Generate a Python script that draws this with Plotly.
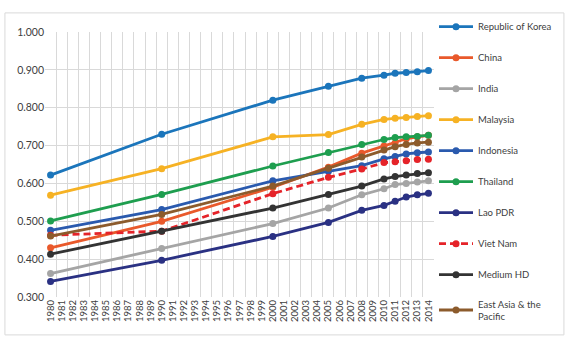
import plotly.graph_objects as go

years = [1980, 1990, 2000, 2005, 2008, 2010, 2011, 2012, 2013, 2014]
all_years = list(range(1980, 2015))

series_names = ["Republic of Korea", "China", "India", "Malaysia", "Indonesia",
                "Thailand", "Lao PDR", "Viet Nam", "Medium HD", "East Asia & the<br>Pacific"]

korea     = [0.622, 0.730, 0.820, 0.857, 0.878, 0.886, 0.891, 0.893, 0.895, 0.898]
china     = [0.430, 0.500, 0.590, 0.643, 0.680, 0.699, 0.707, 0.718, 0.723, 0.727]
india     = [0.362, 0.428, 0.494, 0.535, 0.570, 0.586, 0.597, 0.600, 0.604, 0.607]
malaysia  = [0.569, 0.639, 0.723, 0.729, 0.756, 0.769, 0.772, 0.774, 0.777, 0.779]
indonesia = [0.476, 0.531, 0.607, 0.632, 0.647, 0.665, 0.671, 0.678, 0.681, 0.683]
thailand  = [0.501, 0.571, 0.646, 0.682, 0.703, 0.716, 0.721, 0.723, 0.724, 0.727]
lao       = [0.341, 0.397, 0.460, 0.497, 0.529, 0.542, 0.553, 0.564, 0.570, 0.574]
vietnam   = [0.463, 0.474, 0.573, 0.616, 0.638, 0.655, 0.657, 0.660, 0.663, 0.664]
medium_hd = [0.413, 0.474, 0.535, 0.571, 0.593, 0.612, 0.618, 0.622, 0.626, 0.628]
eap       = [0.461, 0.518, 0.593, 0.640, 0.670, 0.688, 0.697, 0.703, 0.707, 0.709]

values = [korea, china, india, malaysia, indonesia, thailand, lao, vietnam, medium_hd, eap]
colors = ["#1B75BB", "#E9592B", "#A5A5A5", "#F6B224", "#2A5AAE",
          "#1E9E4F", "#2A3183", "#E52329", "#333333", "#8C5B2C"]
dashes = ["solid"] * 7 + ["7px,4px"] + ["solid"] * 2

y_ticks = [0.3, 0.4, 0.5, 0.6, 0.7, 0.8, 0.9, 1.0]

fig = go.Figure()
for i, (name, vals, col, dash) in enumerate(zip(series_names, values, colors, dashes)):
    fig.add_trace(go.Scatter(
        x=years, y=vals, name=name, mode="lines+markers",
        line=dict(color=col, width=2.8, dash=dash),
        marker=dict(color=col, size=7, symbol="circle"),
        legendgroup=f"g{i}",
    ))

grid = "#D9D9D9"
fig.update_layout(
    width=571, height=347,
    margin=dict(l=45, r=137, t=32, b=50),
    paper_bgcolor="white", plot_bgcolor="white",
    font=dict(family="Lato, Open Sans, sans-serif", size=10, color="#404040"),
    showlegend=True,
    legend=dict(
        x=1.0, xanchor="left", y=1.075, yanchor="top",
        traceorder="grouped", tracegroupgap=12,
        font=dict(size=9.5, color="#404040"),
        itemwidth=34, bgcolor="rgba(0,0,0,0)",
        maxheight=345,
    ),
    shapes=[dict(type="rect", xref="paper", yref="paper",
                 x0=-0.103, x1=1.334, y0=-0.143, y1=1.072,
                 line=dict(color="#D9D9D9", width=1))],
)
fig.update_xaxes(
    range=[1979.5, 2014.5],
    tickmode="array", tickvals=all_years, ticktext=[str(y) for y in all_years],
    tickangle=-90, showgrid=False, zeroline=False,
    tickfont=dict(size=9.5, color="#404040"),
    minor=dict(tick0=1979.5, dtick=1, showgrid=True, gridcolor=grid, gridwidth=1),
    showline=False,
)
fig.update_yaxes(
    range=[0.3, 1.0], tickvals=y_ticks, tickformat=".3f",
    showgrid=True, gridcolor=grid, gridwidth=1, zeroline=False,
    tickfont=dict(size=10.5, color="#404040"),
    showline=False,
)

fig.write_html("out.html")
